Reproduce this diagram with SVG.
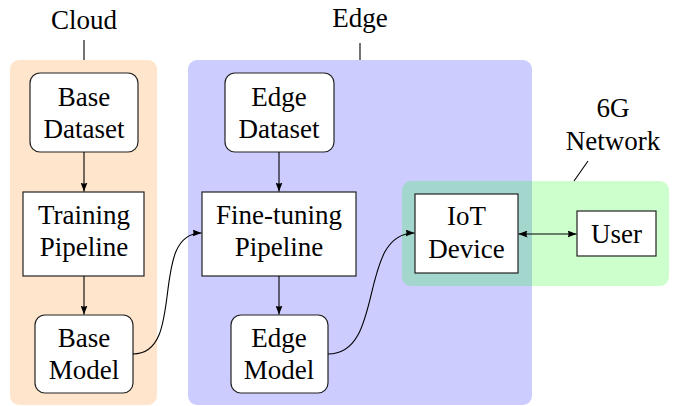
<svg xmlns="http://www.w3.org/2000/svg" width="673" height="406" viewBox="0 0 673 406">
  <style>
    text { font-family: "Liberation Serif", "Times New Roman", Times, serif; font-size: 27px; fill: #000; text-anchor: middle; }
    .box { fill: #fff; stroke: #222; stroke-width: 1.2; }
    .conn { fill: none; stroke: #000; stroke-width: 1.1; }
    .tag { fill: none; stroke: #000; stroke-width: 1.1; }
  </style>
  <defs>
    <!-- latex-style arrow tip, also used reversed at path starts -->
    <marker id="arrow" viewBox="0 0 9 7" refX="9" refY="3.5" markerWidth="9" markerHeight="7" markerUnits="userSpaceOnUse" orient="auto-start-reverse">
      <path d="M0,0 Q2,3.5 0,7 L9,3.5 z" fill="#000"/>
    </marker>
  </defs>

  <!-- regions -->
  <g id="cloud-region">
    <rect x="10" y="60" width="147" height="345" rx="9" fill="#FFE5CC"/>
    <line class="tag" x1="84" y1="40" x2="84" y2="60"/>
    <text x="84" y="29">Cloud</text>
  </g>
  <g id="edge-region">
    <rect x="188" y="60" width="344" height="345" rx="9" fill="#CCCCFF"/>
    <line class="tag" x1="360" y1="43" x2="360" y2="60"/>
    <text x="360" y="27">Edge</text>
  </g>
  <g id="network-region">
    <rect x="402" y="181" width="267" height="105" rx="9" fill="#00FF00" fill-opacity="0.2"/>
    <line class="tag" x1="588" y1="161" x2="574" y2="181"/>
    <text x="613" y="117">6G</text>
    <text x="613" y="150">Network</text>
  </g>

  <!-- nodes -->
  <g id="base-dataset">
    <rect class="box" x="30" y="73" width="108" height="79" rx="10"/>
    <text x="84" y="106">Base</text>
    <text x="84" y="138">Dataset</text>
  </g>
  <g id="training-pipeline">
    <rect class="box" x="23" y="192" width="121" height="84"/>
    <text x="84" y="224">Training</text>
    <text x="84" y="256">Pipeline</text>
  </g>
  <g id="base-model">
    <rect class="box" x="35" y="315" width="98" height="78" rx="10"/>
    <text x="84" y="347">Base</text>
    <text x="84" y="379">Model</text>
  </g>
  <g id="edge-dataset">
    <rect class="box" x="225" y="73" width="109" height="79" rx="10"/>
    <text x="279" y="106">Edge</text>
    <text x="279" y="138">Dataset</text>
  </g>
  <g id="finetuning-pipeline">
    <rect class="box" x="202" y="192" width="154" height="84"/>
    <text x="279" y="224">Fine-tuning</text>
    <text x="279" y="256">Pipeline</text>
  </g>
  <g id="edge-model">
    <rect class="box" x="231" y="315" width="97" height="78" rx="10"/>
    <text x="279" y="347">Edge</text>
    <text x="279" y="379">Model</text>
  </g>
  <g id="iot-device">
    <rect class="box" x="415" y="194" width="103" height="79"/>
    <text x="466.5" y="225">IoT</text>
    <text x="466.5" y="258">Device</text>
  </g>
  <g id="user">
    <rect class="box" x="577" y="211" width="79" height="45"/>
    <text x="616.5" y="243">User</text>
  </g>

  <!-- connectors -->
  <g id="connectors">
    <line class="conn" x1="84" y1="152" x2="84" y2="191.5" marker-end="url(#arrow)"/>
    <line class="conn" x1="84" y1="276" x2="84" y2="314.5" marker-end="url(#arrow)"/>
    <line class="conn" x1="279" y1="152" x2="279" y2="191.5" marker-end="url(#arrow)"/>
    <line class="conn" x1="279" y1="276" x2="279" y2="314.5" marker-end="url(#arrow)"/>
    <path class="conn" d="M133,354 C187,354 148,233 201.5,233" marker-end="url(#arrow)"/>
    <path class="conn" d="M328,354 C386,354 357,233 414.5,233" marker-end="url(#arrow)"/>
    <line class="conn" x1="518.5" y1="234" x2="576.5" y2="234" marker-start="url(#arrow)" marker-end="url(#arrow)"/>
  </g>
</svg>
